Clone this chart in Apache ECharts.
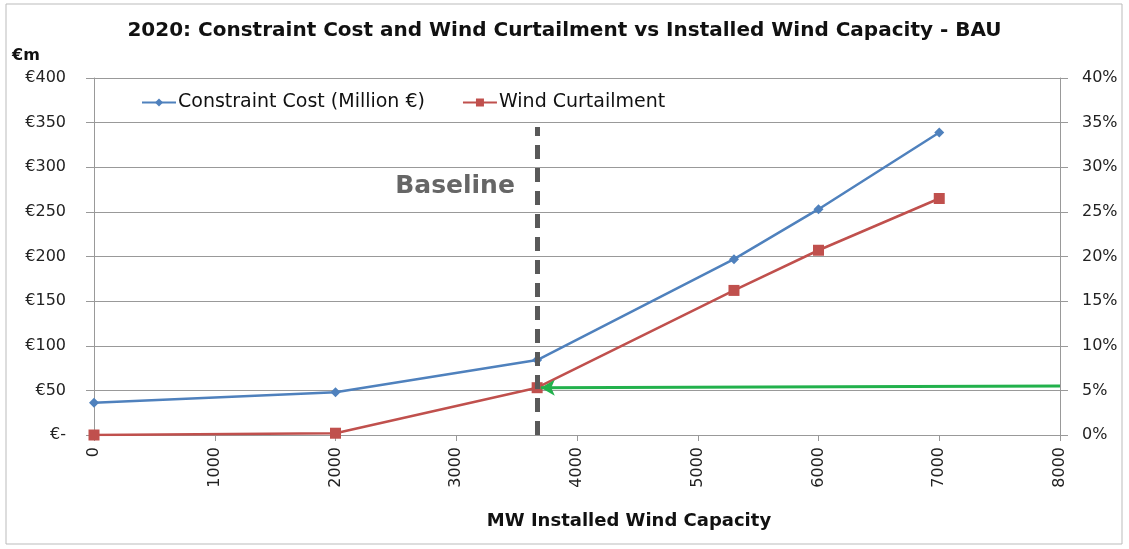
<!DOCTYPE html>
<html><head><meta charset="utf-8">
<script src="https://cdn.jsdelivr.net/npm/echarts@6/dist/echarts.min.js"></script>
<style>html,body{margin:0;padding:0;background:#fff}#c{width:1129px;height:549px}</style>
</head><body><div id="c"></div>
<script>
const capacityMW = [0, 2000, 3670, 5300, 6000, 7000];
const constraintCost = [36, 48, 84, 197, 253, 339];
const windCurtailment = [0, 0.2, 5.3, 16.2, 20.7, 26.5];
const baselineMW = 3670;
const arrowFrom = [8000, 5.5];
const arrowTo = [3700, 5.3];

const chart = echarts.init(document.getElementById('c'));
const tickFont = {fontFamily: 'DejaVu Sans', fontSize: 16, color: '#222'};
chart.setOption({
  animation: false,
  backgroundColor: '#fff',
  title: {
    text: '2020: Constraint Cost and Wind Curtailment vs Installed Wind Capacity - BAU',
    left: 'center', top: 16,
    textStyle: {fontFamily: 'DejaVu Sans', fontWeight: 'bold', fontSize: 20, color: '#111'}
  },
  graphic: [
    {type: 'rect', shape: {x: 6, y: 4, width: 1116, height: 540}, style: {fill: 'none', stroke: '#bbb', lineWidth: 1}, silent: true},
    {type: 'text', left: 12, top: 48, style: {text: '€m', fontFamily: 'DejaVu Sans', fontWeight: 'bold', fontSize: 16, fill: '#111'}, silent: true}
  ],
  legend: {
    left: 136, top: 88, itemGap: 37, itemWidth: 34, itemHeight: 10,
    textStyle: {fontFamily: 'DejaVu Sans', fontSize: 19, color: '#111', padding: [0, 0, 0, -3]},
    data: ['Constraint Cost (Million €)', 'Wind Curtailment']
  },
  grid: {left: 94, right: 69, top: 78, bottom: 114},
  xAxis: {
    type: 'value', min: 0, max: 8000, interval: 1000,
    name: 'MW Installed Wind Capacity', nameLocation: 'middle', nameGap: 77,
    nameTextStyle: {fontFamily: 'DejaVu Sans', fontWeight: 'bold', fontSize: 18, color: '#111', padding: [0, 0, 0, 104]},
    axisLine: {lineStyle: {color: '#999'}},
    axisTick: {show: true, length: 6, lineStyle: {color: '#999'}},
    splitLine: {show: false},
    axisLabel: Object.assign({rotate: 90, margin: 12, formatter: v => String(v)}, tickFont)
  },
  yAxis: [{
    type: 'value', min: 0, max: 400, interval: 50, position: 'left',
    axisLine: {show: true, lineStyle: {color: '#999'}},
    axisTick: {show: true, length: 8, lineStyle: {color: '#999'}},
    splitLine: {show: true, lineStyle: {color: '#999', width: 1}},
    axisLabel: Object.assign({margin: 28, formatter: v => v === 0 ? '€-' : '€' + v}, tickFont)
  }, {
    type: 'value', min: 0, max: 40, interval: 5, position: 'right',
    axisLine: {show: true, lineStyle: {color: '#999'}},
    axisTick: {show: true, length: 8, lineStyle: {color: '#999'}},
    splitLine: {show: false},
    axisLabel: Object.assign({margin: 22, formatter: v => v + '%'}, tickFont)
  }],
  series: [{
    name: 'Constraint Cost (Million €)', type: 'line', yAxisIndex: 0,
    data: capacityMW.map((x, i) => [x, constraintCost[i]]),
    color: '#4f81bd', symbol: 'diamond', symbolSize: 10,
    lineStyle: {width: 2.5, color: '#4f81bd'}, itemStyle: {color: '#4f81bd'}, z: 3
  }, {
    name: 'Wind Curtailment', type: 'line', yAxisIndex: 1,
    data: capacityMW.map((x, i) => [x, windCurtailment[i]]),
    color: '#c0504d', symbol: 'rect', symbolSize: 11,
    lineStyle: {width: 2.5, color: '#c0504d'}, itemStyle: {color: '#c0504d'}, z: 3,
    markLine: {
      silent: true, symbol: ['none', 'arrow'], symbolSize: [12, 14],
      lineStyle: {color: '#22b14c', width: 3, type: 'solid'}, label: {show: false},
      data: [[{coord: arrowFrom}, {coord: arrowTo}]]
    }
  }, {
    name: 'baseline', type: 'line', yAxisIndex: 0, data: [], z: 4,
    markLine: {
      silent: true, symbol: ['none', 'none'],
      lineStyle: {color: '#595959', width: 5, type: [14, 9]}, label: {show: false},
      data: [[{coord: [baselineMW, 0]}, {coord: [baselineMW, 345]}]]
    },
    markPoint: {
      silent: true, symbol: 'circle', symbolSize: 0,
      label: {show: true, formatter: 'Baseline', fontFamily: 'DejaVu Sans', fontWeight: 'bold', fontSize: 25, color: '#666'},
      data: [{coord: [2990, 278]}]
    }
  }]
});
</script></body></html>
